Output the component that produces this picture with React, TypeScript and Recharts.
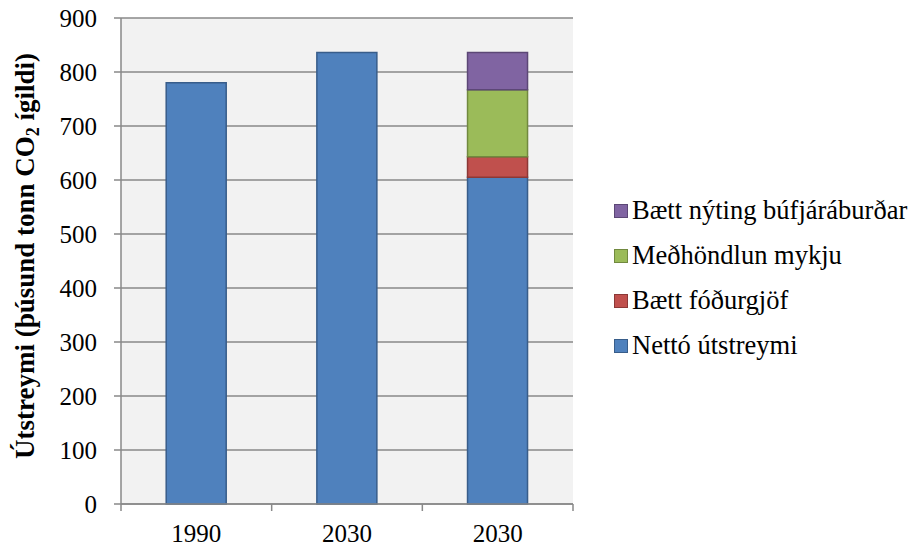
import React from "react";
import { BarChart, Bar, XAxis, YAxis, CartesianGrid, Legend } from "recharts";

const years = ["1990", "2030", "2030"];
const netto = [780, 836, 605];
const fodurgjof = [0, 0, 38];
const medhondlun = [0, 0, 124];
const nyting = [0, 0, 69];
const yTicks = [0, 100, 200, 300, 400, 500, 600, 700, 800, 900];

const series = [
  { key: "netto", name: "Nettó útstreymi", fill: "#4f81bd", stroke: "#385d8a" },
  { key: "fodurgjof", name: "Bætt fóðurgjöf", fill: "#c0504d", stroke: "#8c3836" },
  { key: "medhondlun", name: "Meðhöndlun mykju", fill: "#9bbb59", stroke: "#71893f" },
  { key: "nyting", name: "Bætt nýting búfjáráburðar", fill: "#8064a2", stroke: "#5c4776" },
];

const data = years.map((year, i) => ({
  year,
  netto: netto[i],
  fodurgjof: fodurgjof[i],
  medhondlun: medhondlun[i],
  nyting: nyting[i],
}));

const FONT = '"Liberation Serif", "Times New Roman", serif';
const GRID = "#898989";

// category ticks sit between the bars, Excel style
const XTick = (props: any) => {
  const { x, y, payload, index } = props;
  const half = payload?.offset || 75.3;
  return (
    <g>
      <line x1={x - half} x2={x - half} y1={y} y2={y + 7} stroke={GRID} strokeWidth={1.5} />
      {index === years.length - 1 && (
        <line x1={x + half} x2={x + half} y1={y} y2={y + 7} stroke={GRID} strokeWidth={1.5} />
      )}
      <text x={x} y={y + 38} textAnchor="middle" fontSize={25} fill="#000" fontFamily={FONT}>
        {payload.value}
      </text>
    </g>
  );
};

const YTitle = (props: any) => {
  const vb = props.viewBox || { y: 18, height: 486 };
  const cx = 34;
  const cy = vb.y + vb.height / 2 - 5;
  return (
    <text
      x={cx}
      y={cy}
      transform={`rotate(-90, ${cx}, ${cy})`}
      textAnchor="middle"
      fontSize={27}
      fontWeight="bold"
      fill="#000"
      fontFamily={FONT}
    >
      Útstreymi (þúsund tonn CO
      <tspan dy={5} fontSize={18}>2</tspan>
      <tspan dy={-5}> ígildi)</tspan>
    </text>
  );
};

const LegendBox = () => (
  <div style={{ fontFamily: FONT, fontSize: 26.5, color: "#000" }}>
    {[...series].reverse().map((s) => (
      <div key={s.key} style={{ display: "flex", alignItems: "center", height: 45, whiteSpace: "nowrap" }}>
        <span
          style={{
            width: 12,
            height: 12,
            background: s.fill,
            border: `1.5px solid ${s.stroke}`,
            marginRight: 4,
            flexShrink: 0,
          }}
        />
        <span>{s.name}</span>
      </div>
    ))}
  </div>
);

export default function App() {
  return (
    <div style={{ position: "absolute", left: 0, top: 0, background: "#fff" }}>
      <BarChart
        width={912}
        height={546}
        data={data}
        margin={{ top: 18, right: 339, bottom: 0, left: 0 }}
        barCategoryGap="30%"
      >
        <CartesianGrid vertical={false} stroke={GRID} strokeWidth={1.5} fill="#f2f2f2" />
        <XAxis
          dataKey="year"
          height={42}
          axisLine={{ stroke: GRID, strokeWidth: 1.5 }}
          tickLine={false}
          tickSize={0}
          tickMargin={0}
          tick={<XTick />}
          interval={0}
        />
        <YAxis
          width={121}
          domain={[0, 900]}
          ticks={yTicks}
          interval={0}
          axisLine={{ stroke: GRID, strokeWidth: 1.5 }}
          tickLine={{ stroke: GRID, strokeWidth: 1.5 }}
          tickSize={7}
          tickMargin={17}
          tick={{ fill: "#000", fontSize: 25, fontFamily: FONT }}
          label={<YTitle />}
        />
        <Legend
          layout="vertical"
          align="center"
          verticalAlign="middle"
          content={<LegendBox />}
          wrapperStyle={{ left: 614, top: 188, width: 298 }}
        />
        {series.map((s) => (
          <Bar
            key={s.key}
            dataKey={s.key}
            name={s.name}
            stackId="a"
            fill={s.fill}
            stroke={s.stroke}
            strokeWidth={1.5}
            isAnimationActive={false}
          />
        ))}
      </BarChart>
    </div>
  );
}
